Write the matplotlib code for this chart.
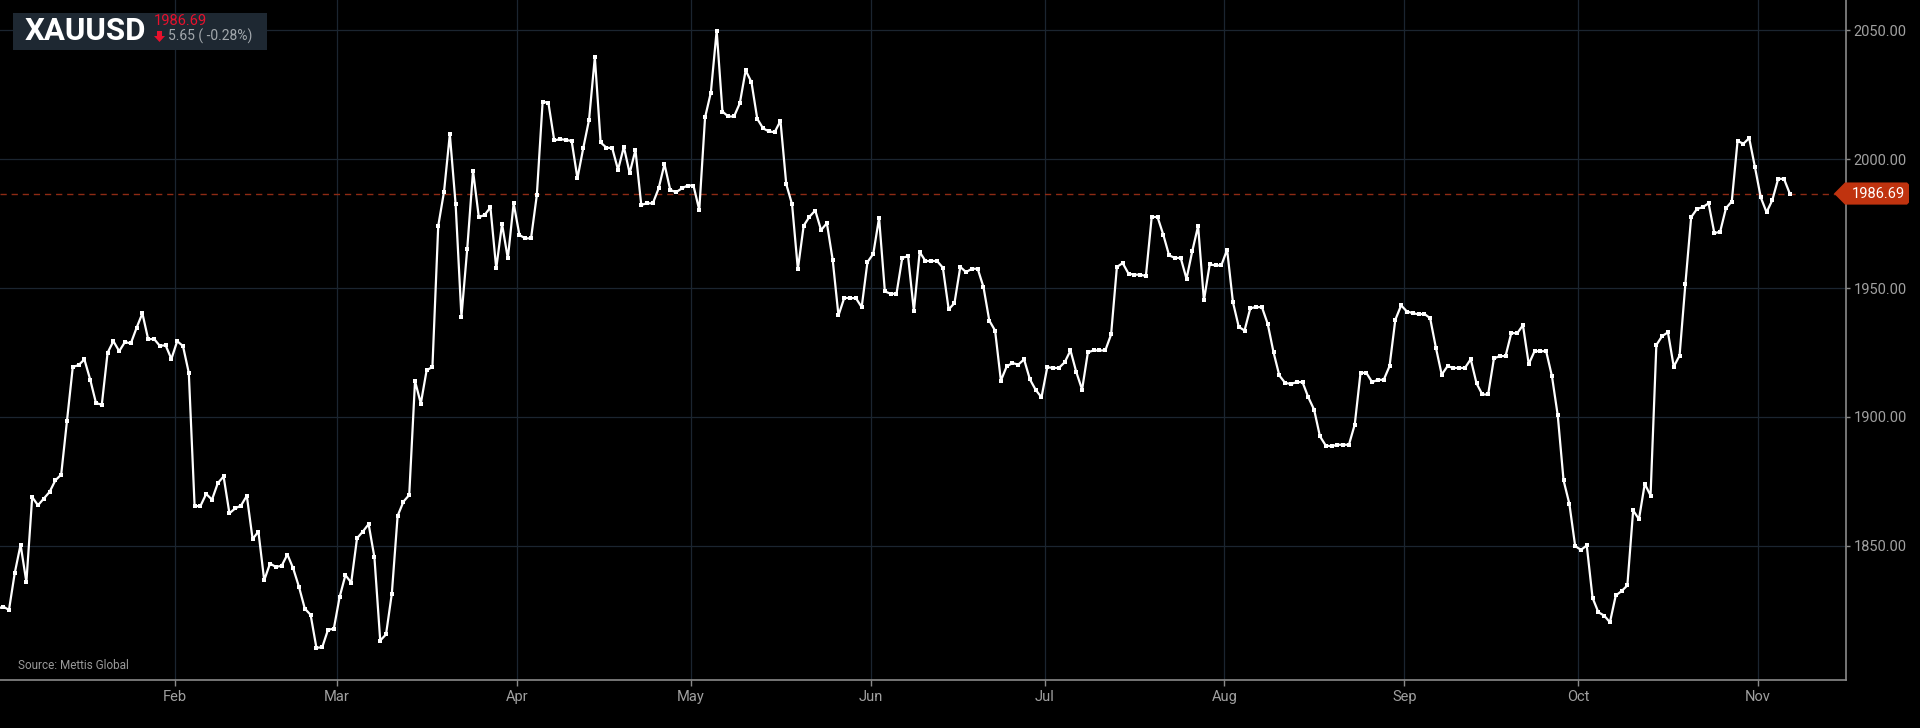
"""XAUUSD daily close, 2023 YTD, dark terminal-style chart."""

import matplotlib
matplotlib.use("Agg")
import matplotlib.pyplot as plt
import matplotlib.dates as mdates
import matplotlib.transforms as mtransforms
from matplotlib.patches import Polygon, Rectangle
import pandas as pd

plt.rcParams["font.family"] = ["Roboto", "DejaVu Sans"]

SYMBOL = "XAUUSD"
LAST_PRICE = 1986.69
CHANGE = -5.65
CHANGE_PCT = -0.28
SOURCE = "Source: Mettis Global"

# daily closes, one list per month
jan = [1825.5, 1826.4, 1825.1, 1839.5, 1850.4, 1835.9, 1868.9, 1865.7, 1868.3, 1870.9,
       1875.4, 1877.6, 1898.4, 1919.4, 1920.1, 1922.3, 1914.5, 1905.4, 1904.7, 1924.9,
       1929.4, 1925.5, 1929.1, 1928.5, 1934.6, 1940.2, 1930.1, 1930.3, 1927.6, 1927.8,
       1922.5]
feb = [1929.4, 1927.5, 1917.1, 1865.4, 1865.4, 1870.1, 1867.9, 1874.3, 1876.9, 1862.6,
       1864.5, 1865.6, 1869.4, 1852.6, 1855.5, 1836.6, 1843.1, 1841.8, 1842.2, 1846.6,
       1841.2, 1834.0, 1825.6, 1823.2, 1810.4, 1810.6, 1817.4, 1817.8]
mar = [1830.1, 1838.6, 1835.7, 1852.9, 1855.5, 1858.4, 1845.5, 1813.2, 1815.6, 1831.4,
       1861.6, 1867.1, 1869.7, 1913.9, 1905.2, 1918.1, 1919.4, 1974.1, 1987.4, 2009.7,
       1982.5, 1938.9, 1965.2, 1995.5, 1977.5, 1978.4, 1981.3, 1957.6, 1974.9, 1961.5,
       1982.9]
apr = [1970.6, 1969.3, 1969.3, 1986.1, 2022.4, 2021.8, 2007.3, 2007.8, 2007.5, 2007.1,
       1992.6, 2004.3, 2015.3, 2039.6, 2006.5, 2004.5, 2004.3, 1995.9, 2004.8, 1994.6,
       2003.6, 1982.3, 1982.9, 1982.9, 1988.7, 1998.1, 1988.1, 1987.2, 1988.7, 1989.8]
may = [1989.8, 1980.3, 2016.2, 2025.9, 2049.9, 2018.5, 2016.6, 2016.6, 2021.8, 2034.5,
       2029.9, 2015.7, 2012.0, 2010.8, 2010.5, 2014.9, 1990.3, 1982.5, 1957.3, 1974.2,
       1977.7, 1980.1, 1972.5, 1975.2, 1961.0, 1939.4, 1946.2, 1946.1, 1946.1, 1942.6,
       1960.1]
jun = [1963.3, 1977.2, 1948.7, 1947.8, 1947.8, 1961.8, 1962.3, 1941.1, 1964.0, 1960.5,
       1960.5, 1960.5, 1957.9, 1941.7, 1944.2, 1958.2, 1956.2, 1957.5, 1957.5, 1950.4,
       1937.4, 1933.5, 1914.1, 1919.6, 1920.9, 1920.3, 1922.3, 1914.6, 1910.5, 1907.6]
jul = [1919.3, 1919.0, 1919.0, 1921.2, 1925.8, 1917.4, 1910.6, 1925.1, 1925.8, 1925.8,
       1925.8, 1932.0, 1958.2, 1959.7, 1955.6, 1955.2, 1955.2, 1954.7, 1977.6, 1977.6,
       1970.7, 1962.7, 1961.7, 1961.7, 1953.6, 1964.4, 1974.1, 1945.2, 1959.2, 1958.8,
       1958.8]
aug = [1964.9, 1944.6, 1935.0, 1933.5, 1942.2, 1942.6, 1942.6, 1936.1, 1925.1, 1916.1,
       1913.2, 1912.8, 1913.5, 1913.5, 1907.6, 1902.8, 1892.5, 1888.9, 1888.6, 1889.2,
       1889.2, 1889.2, 1897.0, 1917.1, 1917.1, 1913.5, 1914.4, 1914.4, 1919.7, 1937.7,
       1943.3]
sep = [1940.9, 1940.3, 1939.8, 1940.0, 1938.3, 1926.8, 1916.4, 1919.7, 1919.0, 1919.0,
       1919.0, 1922.4, 1913.0, 1908.7, 1908.7, 1922.7, 1923.6, 1923.6, 1932.6, 1932.4,
       1935.6, 1920.5, 1925.5, 1925.5, 1925.5, 1915.8, 1900.6, 1875.4, 1866.3, 1849.9]
oct = [1848.4, 1850.1, 1829.8, 1824.2, 1822.9, 1820.3, 1830.7, 1832.4, 1834.6, 1863.7,
       1860.3, 1874.0, 1869.5, 1927.9, 1931.4, 1932.8, 1919.5, 1923.8, 1951.5, 1977.5,
       1980.7, 1981.4, 1982.9, 1971.3, 1971.9, 1981.0, 1983.6, 2007.1, 2006.0, 2008.2,
       1996.9]
nov = [1985.2, 1979.4, 1984.2, 1992.4, 1992.4, LAST_PRICE]

close = jan + feb + mar + apr + may + jun + jul + aug + sep + oct + nov
dates = pd.date_range("2023-01-01 11:00", periods=len(close), freq="D")

y_ticks = [1850, 1900, 1950, 2000, 2050]
month_ticks = pd.date_range("2023-02-01", "2023-11-01", freq="MS")

BG = "black"
GRID = "#1b2530"
AXIS = "#8a8a8a"
LABEL = "#a0a0a0"
TAG = "#c0330f"
UP_DOWN_RED = "#e8112d"

W, H = 1920, 728
fig = plt.figure(figsize=(W / 100, H / 100), dpi=100, facecolor=BG)
ax = fig.add_axes([0, 1 - 680 / H, 1845.7 / W, 680 / H])
ax.set_facecolor(BG)


def px(x, y):
    """Image pixel (from top-left) -> figure fraction."""
    return x / W, 1 - y / H


ax.plot(dates, close, color="white", linewidth=1.6, marker="s", markersize=3.4,
        markeredgewidth=0, zorder=3)
ax.axhline(LAST_PRICE, color="#8e2a14", linewidth=1, dashes=(4.5, 3.5), zorder=2)

ax.set_xlim(pd.Timestamp("2023-01-01") + pd.Timedelta(days=0.91),
            pd.Timestamp("2023-01-01") + pd.Timedelta(days=319.1))
ax.set_ylim(1797.9, 2061.8)

ax.set_xticks(month_ticks)
ax.xaxis.set_major_formatter(mdates.DateFormatter("%b"))
ax.set_yticks(y_ticks)
ax.set_yticklabels([f"{v:.2f}" for v in y_ticks])
ax.yaxis.tick_right()
ax.grid(True, color=GRID, linewidth=0.9)
ax.set_axisbelow(True)

for side in ("top", "left"):
    ax.spines[side].set_visible(False)
for side in ("right", "bottom"):
    ax.spines[side].set_color(AXIS)
    ax.spines[side].set_linewidth(1.2)

ax.tick_params(axis="y", colors=AXIS, labelcolor=LABEL, labelsize=10.5,
               length=3, width=1, pad=2.5)
ax.tick_params(axis="x", colors=AXIS, labelcolor=LABEL, labelsize=10.5,
               length=4, width=1, pad=3)

# last-price tag on the right axis
blend = mtransforms.blended_transform_factory(fig.transFigure, ax.transData)
half = 4.3
tag = Polygon([(1834 / W, LAST_PRICE), (1845 / W, LAST_PRICE + half),
               (1907 / W, LAST_PRICE + half), (1909 / W, LAST_PRICE + half - 0.8),
               (1909 / W, LAST_PRICE - half + 0.8), (1907 / W, LAST_PRICE - half),
               (1845 / W, LAST_PRICE - half)],
              closed=True, transform=blend, facecolor=TAG, edgecolor="none",
              clip_on=False, zorder=5)
fig.patches.append(tag)
fig.text(1878 / W, LAST_PRICE, f"{LAST_PRICE:.2f}", transform=blend, color="white",
         fontsize=10.5, ha="center", va="center", zorder=6)

# symbol header box
x0, y0 = px(12.7, 50)
fig.patches.append(Rectangle((x0, y0), (267.3 - 12.7) / W, (50 - 12.7) / H,
                             transform=fig.transFigure, facecolor="#1e2832",
                             edgecolor="none", zorder=4))
fig.text(*px(25, 40.5), SYMBOL, color="white", fontsize=22.5, fontweight="bold",
         va="baseline", ha="left", zorder=6)
fig.text(*px(154, 25), f"{LAST_PRICE:.2f}", color=UP_DOWN_RED, fontsize=10.5,
         va="baseline", ha="left", zorder=6)
arrow = Polygon([px(157, 31), px(162, 31), px(162, 36), px(165, 36), px(159.5, 42),
                 px(154, 36), px(157, 36)], closed=True, transform=fig.transFigure,
                facecolor=UP_DOWN_RED, edgecolor="none", zorder=6)
fig.patches.append(arrow)
fig.text(*px(168, 40.7), f"{abs(CHANGE):.2f} ( {CHANGE_PCT:.2f}%)", color="#a3a8ad",
         fontsize=10, va="baseline", ha="left", zorder=6)

fig.text(*px(18, 669), SOURCE, color="#9a9a9a", fontsize=8.5, va="baseline", ha="left")

fig.savefig("out.png", dpi=100, facecolor=BG)
